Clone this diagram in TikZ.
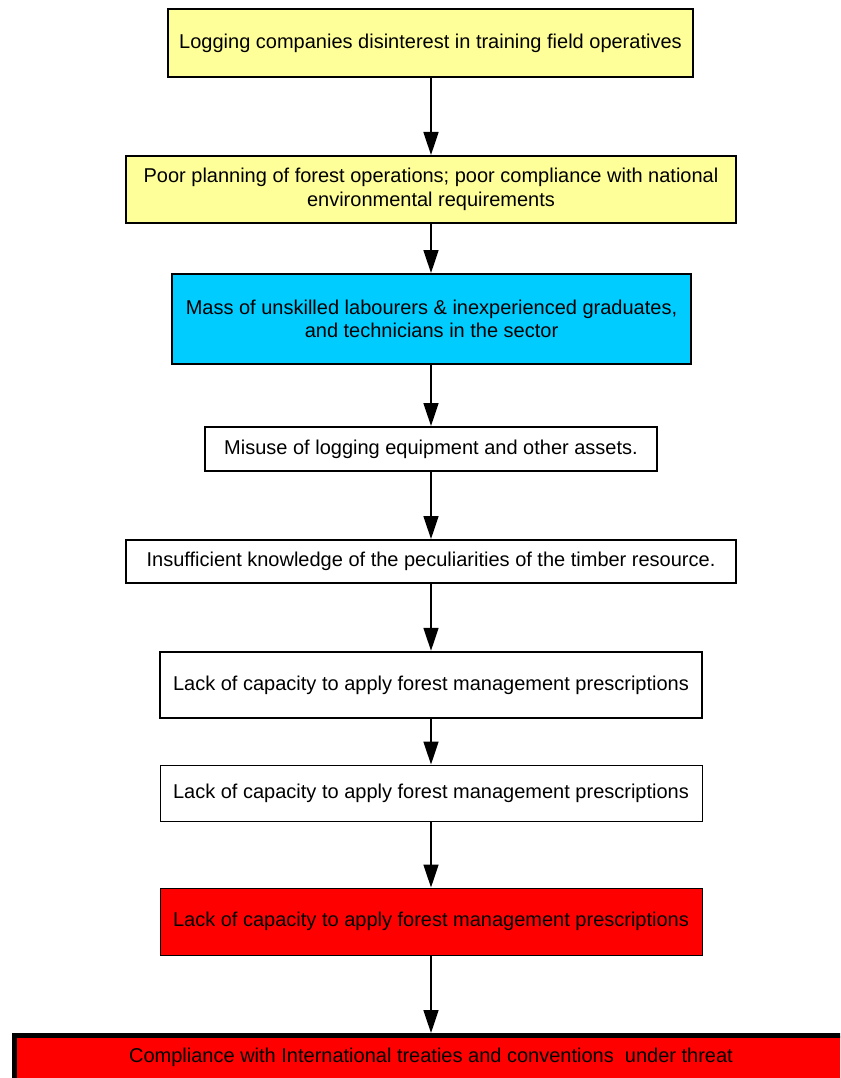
\documentclass[tikz,border=0pt]{standalone}
\usepackage{fontspec}
\setmainfont{Liberation Sans}
\usetikzlibrary{arrows.meta}
\definecolor{boxyellow}{HTML}{FFFF99}
\definecolor{boxcyan}{HTML}{00CCFF}
\definecolor{boxred}{HTML}{FF0000}
\tikzset{
  boxfont/.style={font=\fontsize{20}{23.5}\selectfont},
  stepbox/.style={draw=black, line width=2pt, align=center, inner sep=0pt, boxfont},
  thinbox/.style={stepbox, line width=1pt},
  conn/.style={line width=1.6pt, -{Triangle[length=23pt,width=15pt]}}
}
\begin{document}
\begin{tikzpicture}[x=1pt,y=-1pt]
\useasboundingbox (0,0) rectangle (840,1078);
\clip (0,0) rectangle (840,1078);
\node[stepbox, fill=boxyellow, minimum width=525pt, minimum height=68pt] (b1) at (430.5,43) {\raisebox{-2pt}{Logging companies disinterest in training field operatives}};
\node[stepbox, fill=boxyellow, minimum width=610pt, minimum height=67pt] (b2) at (431,189.5) {Poor planning of forest operations; poor compliance with national\\environmental requirements};
\node[stepbox, fill=boxcyan, minimum width=519pt, minimum height=90pt] (b3) at (431.5,319) {Mass of unskilled labourers \& inexperienced graduates,\\and technicians in the sector};
\node[stepbox, fill=white, minimum width=452pt, minimum height=44pt] (b4) at (431,449) {Misuse of logging equipment and other assets.};
\node[stepbox, fill=white, minimum width=610pt, minimum height=43pt] (b5) at (431,561.5) {Insufficient knowledge of the peculiarities of the timber resource.};
\node[stepbox, fill=white, line width=2.5pt, minimum width=542pt, minimum height=66pt] (b6) at (431,685) {Lack of capacity to apply forest management prescriptions};
\node[thinbox, fill=white, minimum width=542pt, minimum height=56pt] (b7) at (431,793) {Lack of capacity to apply forest management prescriptions};
\node[thinbox, fill=boxred, minimum width=542pt, minimum height=67pt] (b8) at (431,921.5) {Lack of capacity to apply forest management prescriptions};
\node[stepbox, fill=boxred, line width=5pt, minimum width=1000pt, minimum height=48pt, anchor=north west] (b9) at (12,1033) {};
\node[boxfont] (t9) at (431,1057) {Compliance with International treaties and conventions\ \ under threat};
\draw[conn] (b1.south -| 431,0) -- (b2.north -| 431,0);
\draw[conn] (b2.south -| 431,0) -- (b3.north -| 431,0);
\draw[conn] (b3.south -| 431,0) -- (b4.north -| 431,0);
\draw[conn] (b4.south -| 431,0) -- (b5.north -| 431,0);
\draw[conn] (b5.south -| 431,0) -- (b6.north -| 431,0);
\draw[conn] (b6.south -| 431,0) -- (b7.north -| 431,0);
\draw[conn] (b7.south -| 431,0) -- (b8.north -| 431,0);
\draw[conn] (b8.south -| 431,0) -- (b9.north -| 431,0);
\end{tikzpicture}
\end{document}
